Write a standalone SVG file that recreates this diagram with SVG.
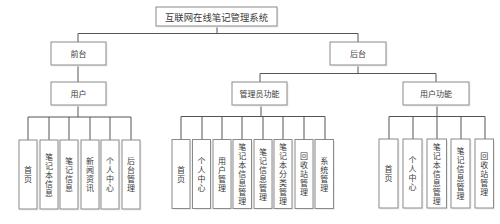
<svg xmlns="http://www.w3.org/2000/svg" width="500" height="224" viewBox="0 0 500 224">
<style>
.box{fill:#fff;stroke:#8a8a8a;stroke-width:1}
.sh{fill:#ececec;stroke:none}
.t{font-family:"Noto Sans CJK SC","Noto Sans CJK JP",sans-serif;fill:#3a3a3a;text-anchor:middle;dominant-baseline:central}
.h{font-size:8px}
.v{font-size:8px;writing-mode:vertical-rl;letter-spacing:1px}
.ln{stroke:#555;stroke-width:1;fill:none}
</style>
<rect width="500" height="224" fill="#fff"/>
<g id="connectors">
<path class="ln" d="M217 26V33.5M78 33.5H358M78 33.5V42M358 33.5V42"/>
<path class="ln" d="M78 65V82M358 65V73.5M260 73.5H436M260 73.5V82M436 73.5V82"/>
<path class="ln" d="M78 105V117M28 117H131M28 117V140M49 117V140M69 117V140M90 117V140M110 117V140M131 117V140"/>
<path class="ln" d="M261 105V116.5M181 116.5H325M181 116.5V139.5M202 116.5V139.5M222 116.5V139.5M242 116.5V139.5M263 116.5V139.5M283 116.5V139.5M304 116.5V139.5M325 116.5V139.5"/>
<path class="ln" d="M437 105V116.5M389 116.5H485M389 116.5V139M413 116.5V139M437 116.5V139M461 116.5V139M485 116.5V139"/>
</g>
<g id="n-title"><rect class="sh" x="157.5" y="8.5" width="121" height="19"/><rect class="box" x="156" y="7" width="121" height="19"/><text class="t" x="216.5" y="16.5" font-size="9.4">互联网在线笔记管理系统</text></g>
<g id="n-qiantai"><rect class="sh" x="52.5" y="43.5" width="55" height="23"/><rect class="box" x="51" y="42" width="55" height="23"/><text class="t h" x="78.5" y="53.5">前台</text></g>
<g id="n-houtai"><rect class="sh" x="331.5" y="43.5" width="56" height="23"/><rect class="box" x="330" y="42" width="56" height="23"/><text class="t h" x="358" y="53.5">后台</text></g>
<g id="n-yonghu"><rect class="sh" x="52.5" y="83.5" width="55" height="23"/><rect class="box" x="51" y="82" width="55" height="23"/><text class="t h" x="78.5" y="93.5">用户</text></g>
<g id="n-admin"><rect class="sh" x="233.5" y="83.5" width="55" height="23"/><rect class="box" x="232" y="82" width="55" height="23"/><text class="t h" x="259.5" y="93.5">管理员功能</text></g>
<g id="n-userfn"><rect class="sh" x="404.5" y="83.5" width="66" height="23"/><rect class="box" x="403" y="82" width="66" height="23"/><text class="t h" x="436" y="93.5">用户功能</text></g>
<g id="l1"><rect class="sh" x="20.5" y="141.5" width="18" height="69"/><rect class="box" x="19" y="140" width="18" height="69"/><text class="t v" x="28" y="175">首页</text></g>
<g id="l2"><rect class="sh" x="41.5" y="141.5" width="18" height="69"/><rect class="box" x="40" y="140" width="18" height="69"/><text class="t v" x="49" y="175">笔记本信息</text></g>
<g id="l3"><rect class="sh" x="61.5" y="141.5" width="18" height="69"/><rect class="box" x="60" y="140" width="18" height="69"/><text class="t v" x="69" y="175">笔记信息</text></g>
<g id="l4"><rect class="sh" x="82.5" y="141.5" width="18" height="69"/><rect class="box" x="81" y="140" width="18" height="69"/><text class="t v" x="90" y="175">新闻资讯</text></g>
<g id="l5"><rect class="sh" x="102.5" y="141.5" width="18" height="69"/><rect class="box" x="101" y="140" width="18" height="69"/><text class="t v" x="110" y="175">个人中心</text></g>
<g id="l6"><rect class="sh" x="123.5" y="141.5" width="18" height="69"/><rect class="box" x="122" y="140" width="18" height="69"/><text class="t v" x="131" y="175">后台管理</text></g>
<g id="m1"><rect class="sh" x="173.5" y="141" width="18" height="69"/><rect class="box" x="172" y="139.5" width="18" height="69"/><text class="t v" x="181" y="174.5">首页</text></g>
<g id="m2"><rect class="sh" x="194" y="141" width="18" height="69"/><rect class="box" x="192.5" y="139.5" width="18" height="69"/><text class="t v" x="201.5" y="174.5">个人中心</text></g>
<g id="m3"><rect class="sh" x="214.5" y="141" width="18" height="69"/><rect class="box" x="213" y="139.5" width="18" height="69"/><text class="t v" x="222" y="174.5">用户管理</text></g>
<g id="m4"><rect class="sh" x="234.5" y="141" width="18.5" height="69"/><rect class="box" x="233" y="139.5" width="18.5" height="69"/><text class="t v" x="242.3" y="174.5">笔记本信息管理</text></g>
<g id="m5"><rect class="sh" x="255.5" y="141" width="18" height="69"/><rect class="box" x="254" y="139.5" width="18" height="69"/><text class="t v" x="263" y="174.5">笔记信息管理</text></g>
<g id="m6"><rect class="sh" x="275.5" y="141" width="18" height="69"/><rect class="box" x="274" y="139.5" width="18" height="69"/><text class="t v" x="283" y="174.5">笔记本分类管理</text></g>
<g id="m7"><rect class="sh" x="296.5" y="141" width="18" height="69"/><rect class="box" x="295" y="139.5" width="18" height="69"/><text class="t v" x="304" y="174.5">回收站管理</text></g>
<g id="m8"><rect class="sh" x="316.5" y="141" width="18.5" height="69"/><rect class="box" x="315" y="139.5" width="18.5" height="69"/><text class="t v" x="324.3" y="174.5">系统管理</text></g>
<g id="r1"><rect class="sh" x="380.5" y="140.5" width="19" height="69"/><rect class="box" x="379" y="139" width="19" height="69"/><text class="t v" x="388.5" y="174">首页</text></g>
<g id="r2"><rect class="sh" x="404.5" y="140.5" width="19" height="69"/><rect class="box" x="403" y="139" width="19" height="69"/><text class="t v" x="412.5" y="174">个人中心</text></g>
<g id="r3"><rect class="sh" x="428.5" y="140.5" width="19.5" height="69"/><rect class="box" x="427" y="139" width="19.5" height="69"/><text class="t v" x="436.8" y="174">笔记本信息管理</text></g>
<g id="r4"><rect class="sh" x="452.5" y="140.5" width="19" height="69"/><rect class="box" x="451" y="139" width="19" height="69"/><text class="t v" x="460.5" y="174">笔记信息管理</text></g>
<g id="r5"><rect class="sh" x="476.5" y="140.5" width="18.5" height="69"/><rect class="box" x="475" y="139" width="18.5" height="69"/><text class="t v" x="484.3" y="174">回收站管理</text></g>
</svg>
